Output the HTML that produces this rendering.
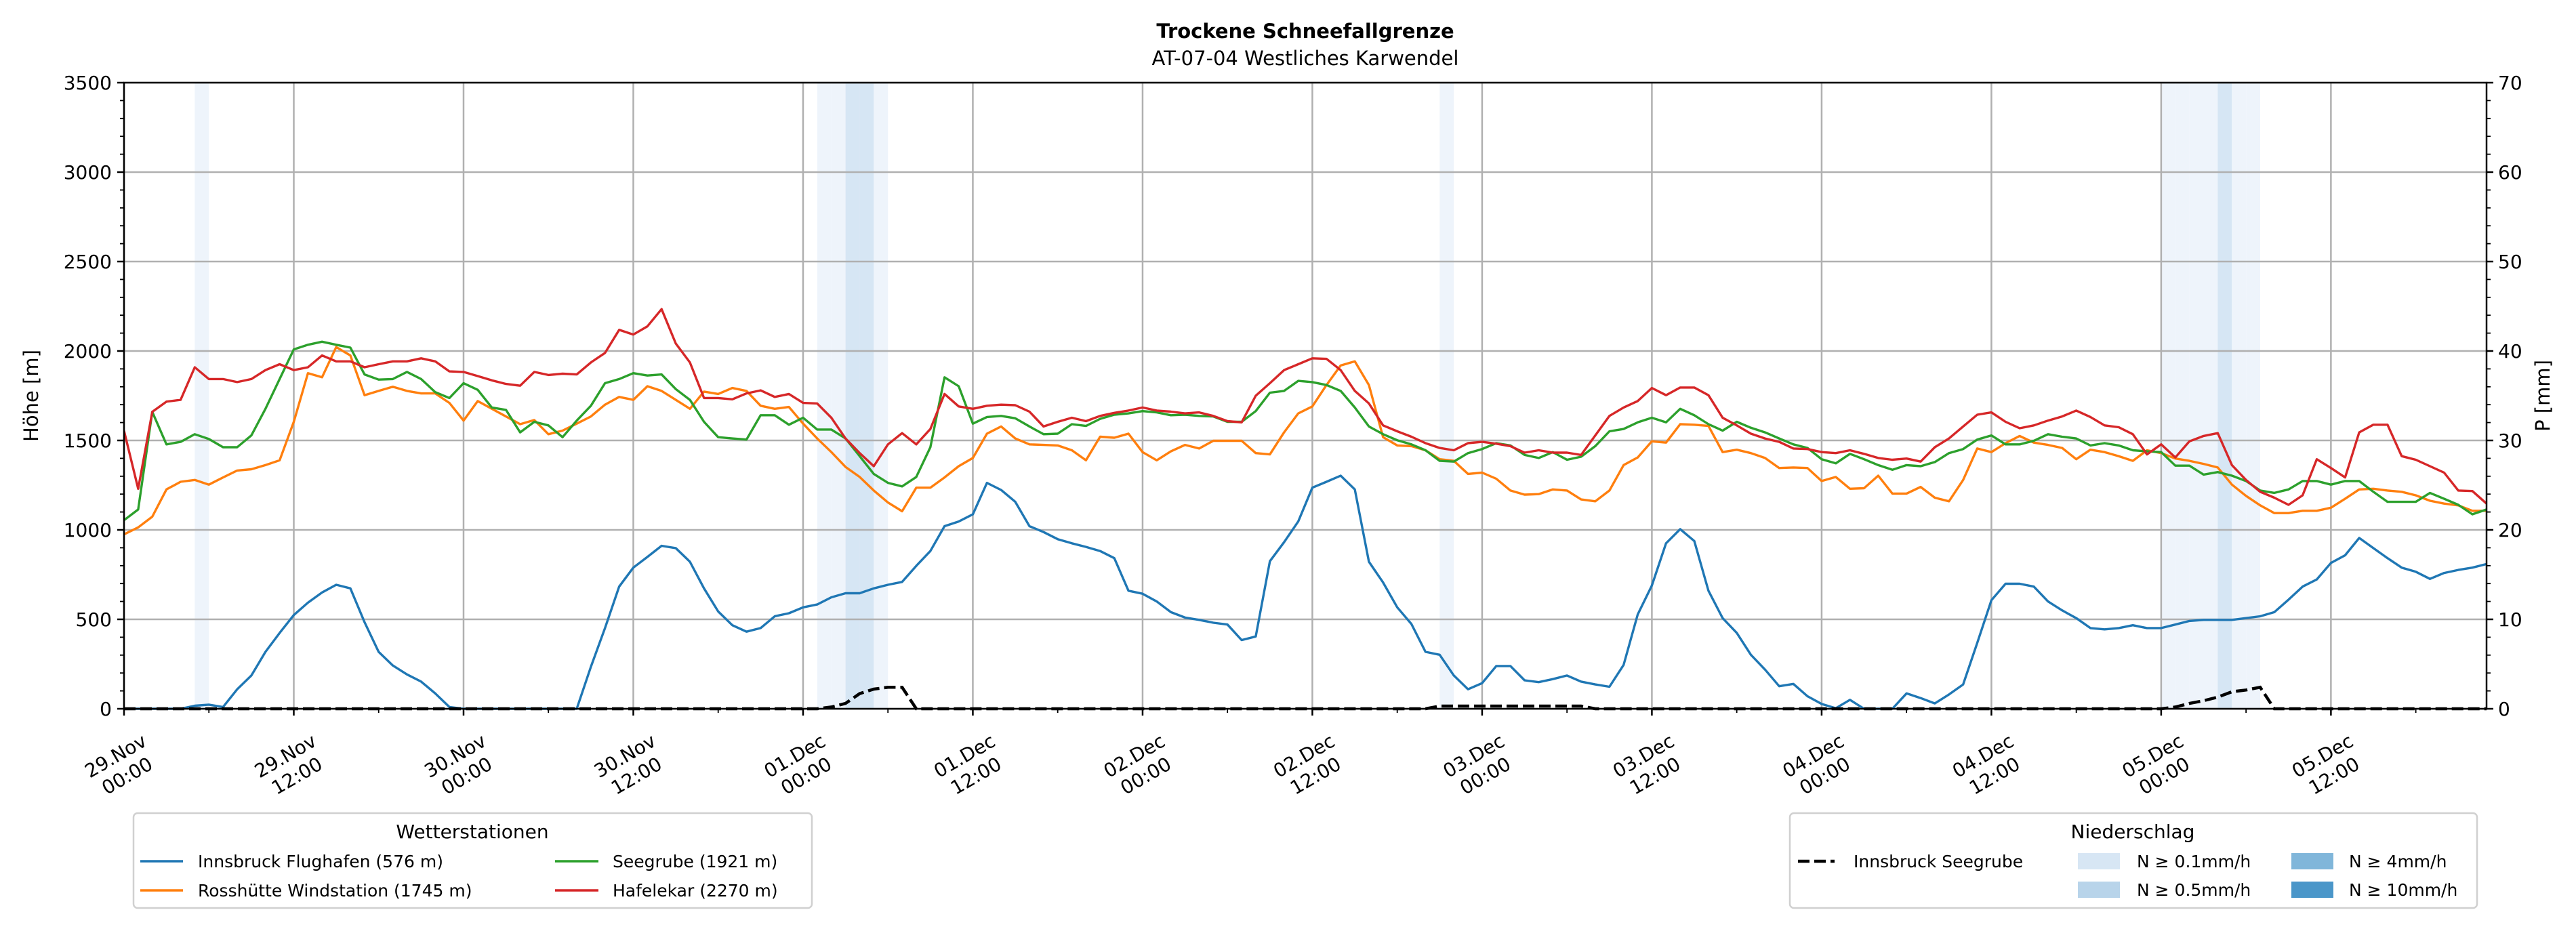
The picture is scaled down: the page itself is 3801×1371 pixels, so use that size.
<!DOCTYPE html>
<html><head><meta charset="utf-8">
<style>
html,body{margin:0;padding:0;background:#fff;}
svg{display:block;font-family:"DejaVu Sans","Liberation Sans",sans-serif;}
</style></head>
<body>
<svg id="chart" xmlns="http://www.w3.org/2000/svg" width="3801" height="1371" viewBox="0 0 3801 1371">
<rect x="0" y="0" width="3801" height="1371" fill="#fff"/>
<text x="1926" y="56" font-size="29" font-weight="bold" text-anchor="middle">Trockene Schneefallgrenze</text>
<text x="1926" y="96" font-size="29" text-anchor="middle">AT-07-04 Westliches Karwendel</text>
<g id="bands"></g>
<g id="grid"></g>
<g id="series"></g>
<g id="axes"></g>
<text transform="translate(56,584) rotate(-90)" font-size="29" text-anchor="middle">Höhe [m]</text>
<text transform="translate(3762,584) rotate(-90)" font-size="29" text-anchor="middle">P [mm]</text>

<g>
<rect x="197" y="1200" width="1001" height="140" rx="6" fill="#fff" stroke="#d0d0d0" stroke-width="2.5"/>
<text x="697" y="1237" font-size="28" text-anchor="middle">Wetterstationen</text>
<g><line x1="207" y1="1271" x2="270" y2="1271" stroke="#1f77b4" stroke-width="3.5"/><text x="292" y="1280" font-size="25">Innsbruck Flughafen (576 m)</text></g>
<g><line x1="207" y1="1314" x2="270" y2="1314" stroke="#ff7f0e" stroke-width="3.5"/><text x="292" y="1323" font-size="25">Rosshütte Windstation (1745 m)</text></g>
<g><line x1="819" y1="1271" x2="883" y2="1271" stroke="#2ca02c" stroke-width="3.5"/><text x="904" y="1280" font-size="25">Seegrube (1921 m)</text></g>
<g><line x1="819" y1="1314" x2="883" y2="1314" stroke="#d62728" stroke-width="3.5"/><text x="904" y="1323" font-size="25">Hafelekar (2270 m)</text></g>
</g>

<g>
<rect x="2641" y="1200" width="1014" height="140" rx="6" fill="#fff" stroke="#d0d0d0" stroke-width="2.5"/>
<text x="3147" y="1237" font-size="28" text-anchor="middle">Niederschlag</text>
<g><line x1="2653" y1="1271" x2="2707" y2="1271" stroke="#000" stroke-width="4.5" stroke-dasharray="17,7"/><text x="2735" y="1280" font-size="25">Innsbruck Seegrube</text></g>
<g><rect x="3066" y="1259" width="62" height="24" fill="#d7e6f4"/><text x="3153" y="1280" font-size="25">N ≥ 0.1mm/h</text></g>
<g><rect x="3066" y="1301" width="62" height="24" fill="#b8d4ea"/><text x="3153" y="1322" font-size="25">N ≥ 0.5mm/h</text></g>
<g><rect x="3381" y="1259" width="62" height="24" fill="#80b6da"/><text x="3466" y="1280" font-size="25">N ≥ 4mm/h</text></g>
<g><rect x="3381" y="1301" width="62" height="24" fill="#4a96c9"/><text x="3466" y="1322" font-size="25">N ≥ 10mm/h</text></g>
</g>
</svg>
<script>
const hafelekar = [1554,1230,1660,1717,1727,1909,1843,1843,1826,1843,1893,1926,1893,1909,1975,1942,1942,1909,1926,1942,1942,1959,1942,1886,1883,1860,1836,1816,1806,1883,1866,1873,1869,1936,1989,2118,2092,2138,2234,2042,1936,1737,1737,1730,1763,1780,1743,1760,1710,1707,1627,1511,1429,1356,
1478,1541,1478,1564,1760,1690,1677,1694,1700,1697,1661,1578,1604,1627,1608,1637,1654,1667,1684,1667,1661,1651,1657,1637,1608,1601,1750,1820,1893,1926,1959,1956,1893,1777,1707,1584,1551,1521,1485,1458,1445,1485,1492,1482,1468,1432,1445,1432,1432,1419,1528,1637,1684,1720,1793,1753,1796,1796,1753,1627,
1584,1538,1511,1492,1455,1452,1435,1429,1445,1425,1402,1392,1399,1382,1462,1511,1578,1644,1657,1604,1568,1584,1611,1634,1667,1631,1584,1574,1535,1422,1478,1405,1495,1525,1541,1362,1279,1213,1180,1140,1193,1395,1346,1293,1545,1588,1588,1412,1392,1356,1320,1220,1217,1147];
const seegrube = [1054,1114,1660,1478,1492,1535,1508,1462,1462,1528,1677,1843,2009,2035,2052,2035,2019,1869,1840,1843,1883,1843,1770,1737,1820,1783,1684,1671,1545,1604,1584,1518,1611,1694,1820,1843,1876,1863,1869,1787,1727,1604,1518,1511,1505,1641,1641,1588,1627,1561,1561,1511,1412,1313,
1263,1243,1296,1462,1853,1803,1594,1631,1637,1624,1578,1535,1538,1591,1581,1621,1644,1651,1664,1657,1641,1644,1637,1634,1604,1604,1664,1767,1777,1833,1826,1810,1777,1684,1578,1535,1501,1478,1445,1386,1382,1429,1452,1485,1472,1419,1402,1435,1392,1409,1468,1551,1564,1601,1627,1601,1677,1641,1591,1555,
1604,1571,1545,1511,1478,1458,1395,1372,1425,1395,1362,1336,1362,1356,1379,1429,1452,1505,1528,1478,1478,1498,1535,1521,1511,1472,1485,1472,1445,1439,1435,1359,1359,1309,1323,1303,1273,1220,1207,1226,1273,1273,1253,1273,1273,1213,1157,1157,1157,1207,1174,1140,1087,1114];
const rosshuette = [975,1014,1074,1226,1269,1279,1253,1293,1332,1339,1362,1389,1604,1876,1853,2022,1975,1753,1777,1800,1777,1763,1763,1710,1611,1720,1677,1634,1591,1614,1535,1555,1594,1634,1700,1743,1727,1803,1777,1727,1677,1773,1760,1793,1777,1694,1677,1687,1594,1511,1435,1352,1296,1220,
1153,1104,1236,1236,1293,1356,1402,1538,1578,1511,1478,1475,1472,1445,1389,1521,1515,1538,1435,1389,1439,1475,1455,1498,1498,1498,1429,1422,1545,1651,1690,1810,1919,1942,1810,1518,1472,1468,1445,1395,1386,1313,1320,1286,1220,1197,1200,1226,1220,1170,1160,1220,1362,1405,1495,1488,1591,1588,1581,1435,
1448,1429,1402,1346,1349,1346,1273,1296,1230,1233,1303,1203,1203,1240,1180,1160,1279,1455,1435,1485,1525,1488,1475,1458,1395,1448,1435,1412,1386,1445,1429,1399,1386,1369,1349,1253,1190,1137,1094,1094,1107,1107,1124,1174,1226,1230,1220,1213,1193,1163,1147,1137,1107,1107];
const flughafen = [0,0,0,0,0,17,23,10,109,186,318,424,524,593,650,693,673,484,318,242,192,152,86,10,0,0,0,0,0,0,0,0,0,235,451,683,789,849,911,898,822,673,544,467,431,451,517,534,567,583,623,646,646,673,
693,709,799,882,1021,1047,1087,1263,1223,1157,1021,988,948,925,905,882,842,660,643,600,540,510,497,481,471,384,404,825,931,1047,1236,1269,1303,1226,822,706,567,474,318,302,186,109,143,239,239,159,149,166,186,152,136,123,245,527,689,925,1004,938,660,507,
424,302,219,126,139,70,27,3,50,0,0,0,86,60,30,80,136,368,607,699,699,683,600,550,507,451,444,451,467,451,451,471,491,497,497,497,507,517,540,610,683,723,815,858,955,898,842,789,766,726,759,776,789,809];
const precipSeegrube = [
0,0,0,0,0,0,0,0,0,0,
0,0,0,0,0,0,0,0,0,0,
0,0,0,0,0,0,0,0,0,0,
0,0,0,0,0,0,0,0,0,0,
0,0,0,0,0,0,0,0,0,0,
0.2,0.6,1.7,2.2,2.4,2.4,0,0,0,0,
0,0,0,0,0,0,0,0,0,0,
0,0,0,0,0,0,0,0,0,0,
0,0,0,0,0,0,0,0,0,0,
0,0,0,0.3,0.3,0.3,0.3,0.3,0.3,0.3,
0.3,0.3,0.3,0.3,0,0,0,0,0,0,
0,0,0,0,0,0,0,0,0,0,
0,0,0,0,0,0,0,0,0,0,
0,0,0,0,0,0,0,0,0,0,
0,0,0,0,0,0.2,0.6,0.9,1.3,1.9,
2.1,2.4,0,0,0,0,0,0,0,0,
0,0,0,0,0,0,0,0];
const bandHours = [5,49,50,51,52,53,93,144,145,146,147,148,149,150];
const bandLevels = [1,1,1,2,2,1,1,1,1,1,1,2,1,1];
const yTicks = [0,500,1000,1500,2000,2500,3000,3500];
const pTicks = [0,10,20,30,40,50,60,70];
const xTickHours = [0,12,24,36,48,60,72,84,96,108,120,132,144,156];
const xTickLine1 = ["29.Nov","29.Nov","30.Nov","30.Nov","01.Dec","01.Dec","02.Dec","02.Dec","03.Dec","03.Dec","04.Dec","04.Dec","05.Dec","05.Dec"];
const xTickLine2 = ["00:00","12:00","00:00","12:00","00:00","12:00","00:00","12:00","00:00","12:00","00:00","12:00","00:00","12:00"];

const NS="http://www.w3.org/2000/svg";
const L=183,R=3669,T=122,B=1046,HMAX=167;
const xs=h=>L+h*(R-L)/HMAX;
const ys=v=>B-v*(B-T)/3500;
const yp=p=>B-p*(B-T)/70;
function mk(tag,attrs,parent){const e=document.createElementNS(NS,tag);for(const k in attrs)e.setAttribute(k,attrs[k]);parent.appendChild(e);return e;}
const bands=document.getElementById('bands'),grid=document.getElementById('grid'),ser=document.getElementById('series'),axes=document.getElementById('axes');
const defs=mk('defs',{},document.getElementById('chart'));
const cp=mk('clipPath',{id:'plotclip'},defs);
mk('rect',{x:L,y:T-5,width:R-L,height:B-T+10},cp);
ser.setAttribute('clip-path','url(#plotclip)');
const bandColors={1:"#eef4fb",2:"#d6e6f4",3:"#a9cde8",4:"#6aa9d6"};
bandHours.forEach((h,i)=>{
  const r=mk('rect',{x:xs(h),y:T,width:xs(h+1)-xs(h),height:B-T,fill:bandColors[bandLevels[i]]},bands);
  
  
});
yTicks.forEach(v=>{
  const g=mk('line',{x1:L,x2:R,y1:ys(v),y2:ys(v),stroke:"#b0b0b0","stroke-width":2.5},grid);
  
  
  mk('line',{x1:L-10,x2:L,y1:ys(v),y2:ys(v),stroke:"#000","stroke-width":2.5},axes);
  const t=mk('text',{x:L-18,y:ys(v)+10,"font-size":28,"text-anchor":"end"},axes);t.textContent=v;
  
  
});
for(let v=0;v<=3500;v+=100){if(v%500)mk('line',{x1:L-6,x2:L,y1:ys(v),y2:ys(v),stroke:"#000","stroke-width":1.8},axes);}
pTicks.forEach(p=>{
  mk('line',{x1:R,x2:R+10,y1:yp(p),y2:yp(p),stroke:"#000","stroke-width":2.5},axes);
  const t=mk('text',{x:R+17,y:yp(p)+10,"font-size":28},axes);t.textContent=p;
  
  
});
for(let p=0;p<=70;p+=2){if(p%10)mk('line',{x1:R,x2:R+6,y1:yp(p),y2:yp(p),stroke:"#000","stroke-width":1.8},axes);}
xTickHours.forEach((h,i)=>{
  const g=mk('line',{x1:xs(h),x2:xs(h),y1:T,y2:B,stroke:"#b0b0b0","stroke-width":2.5},grid);
  
  
  mk('line',{x1:xs(h),x2:xs(h),y1:B,y2:B+10,stroke:"#000","stroke-width":2.5},axes);
  const gt=mk('g',{transform:`translate(${xs(h)-4},1130) rotate(-30)`},axes);
  
  
  const t1=mk('text',{x:0,y:-7,"font-size":28,"text-anchor":"middle"},gt);t1.textContent=xTickLine1[i];
  const t2=mk('text',{x:0,y:27,"font-size":28,"text-anchor":"middle"},gt);t2.textContent=xTickLine2[i];
});
for(let h=6;h<=HMAX;h+=12){mk('line',{x1:xs(h),x2:xs(h),y1:B,y2:B+6,stroke:"#000","stroke-width":1.8},axes);}
function line(arr,color,name,scale,extra){
  const pts=arr.map((v,i)=>xs(i).toFixed(1)+","+scale(v).toFixed(1)).join(" ");
  const p=mk('polyline',Object.assign({points:pts,fill:"none",stroke:color,"stroke-width":3.4,"stroke-linejoin":"round"},extra||{}),ser);
  
  
}
line(flughafen,"#1f77b4","line-flughafen",ys);
line(rosshuette,"#ff7f0e","line-rosshuette",ys);
line(seegrube,"#2ca02c","line-seegrube",ys);
line(hafelekar,"#d62728","line-hafelekar",ys);
line(precipSeegrube,"#000","line-precip-seegrube",yp,{"stroke-width":4.5,"stroke-dasharray":"17,7","stroke-linejoin":"miter"});
const fr=mk('rect',{x:L,y:T,width:R-L,height:B-T,fill:"none",stroke:"#000","stroke-width":2.5},axes);


</script>
</body></html>
